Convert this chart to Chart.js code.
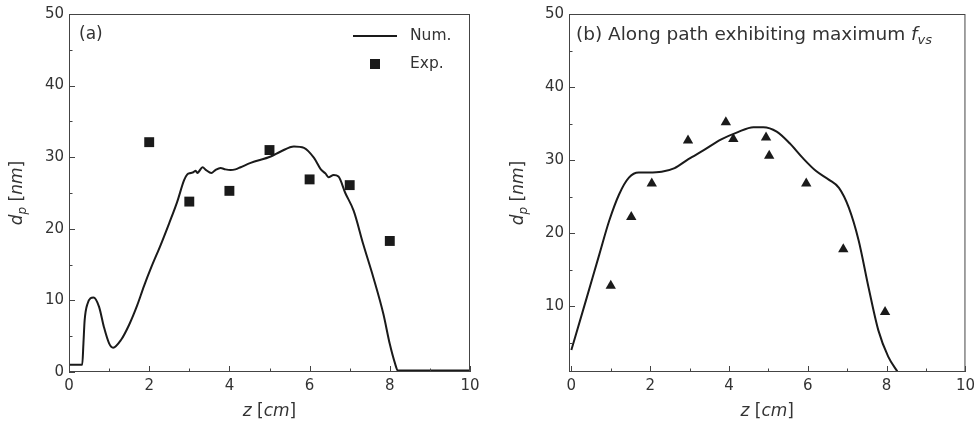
<!DOCTYPE html>
<html lang="en">

<head>
    <meta charset="UTF-8">
    <title>Particle diameter along z</title>
    <script src="https://cdn.jsdelivr.net/npm/chart.js"></script>
    <style>
        body { margin: 0; background: #fff; }
        .wrap { display: flex; width: 980px; height: 425px; }
    </style>
</head>

<body>
    <div class="wrap">
        <canvas id="chartA" width="490" height="425"></canvas>
        <canvas id="chartB" width="490" height="425"></canvas>
    </div>

    <script>
        // ---- panel (a) ----
        const numZA = [0, 0.33, 0.36, 0.39, 0.46, 0.61, 0.75, 0.87, 1.0, 1.1, 1.3, 1.5, 1.7, 1.87, 2.05, 2.29, 2.5, 2.7, 2.87, 2.95, 3.03, 3.1, 3.16, 3.2, 3.24, 3.33, 3.42, 3.55, 3.65, 3.78, 3.9, 4.03, 4.15, 4.28, 4.53, 5.03, 5.28, 5.61, 5.86, 6.11, 6.28, 6.4, 6.47, 6.6, 6.72, 6.89, 7.1, 7.34, 7.59, 7.84, 8.0, 8.13, 8.2, 8.3, 10]
        const numDpA = [1.0, 1.0, 4.0, 7.2, 9.5, 10.4, 9.1, 6.3, 4.0, 3.4, 4.5, 6.6, 9.3, 12.0, 14.6, 17.8, 20.8, 23.8, 26.8, 27.6, 27.8, 27.9, 28.1, 27.8, 28.0, 28.6, 28.2, 27.8, 28.2, 28.5, 28.3, 28.2, 28.3, 28.6, 29.2, 30.1, 30.8, 31.5, 31.3, 29.9, 28.3, 27.7, 27.2, 27.5, 27.3, 25.0, 22.5, 17.8, 13.2, 8.1, 3.9, 1.2, 0.2, 0.2, 0.2]
        const expZA = [2, 3, 4, 5, 6, 7, 8]
        const expDpA = [32.1, 23.8, 25.3, 31.0, 26.9, 26.1, 18.3]

        // ---- panel (b) ----
        const numZB = [0, 0.37, 0.71, 0.96, 1.21, 1.46, 1.71, 1.96, 2.29, 2.62, 2.96, 3.37, 3.79, 4.21, 4.62, 4.87, 5.21, 5.54, 5.87, 6.21, 6.54, 6.79, 7.04, 7.29, 7.54, 7.79, 8.04, 8.28, 8.4]
        const numDpB = [4.0, 10.8, 17.1, 21.7, 25.3, 27.6, 28.3, 28.3, 28.4, 28.9, 30.1, 31.4, 32.8, 33.8, 34.5, 34.5, 33.9, 32.3, 30.3, 28.5, 27.3, 26.2, 23.5, 19.0, 12.6, 6.7, 3.1, 1.0, 0]
        const expZB = [1.0, 1.52, 2.04, 2.96, 3.92, 4.11, 4.94, 5.02, 5.96, 6.9, 7.96]
        const expDpB = [12.8, 22.2, 26.8, 32.7, 35.2, 32.9, 33.1, 30.6, 26.8, 17.8, 9.2]

        // ticks
        const xMajor = [0, 2, 4, 6, 8, 10]
        const xMinor = [1, 3, 5, 7, 9]
        const yMajorA = [0, 10, 20, 30, 40, 50]
        const yMajorB = [10, 20, 30, 40, 50]
        const yMinor = [5, 15, 25, 35, 45]

        const FONT = 'DejaVu Sans'
        const TXT = '#333'
        const INK = '#1a1a1a'

        const toPts = (xs, ys) => xs.map((x, i) => ({ x: x, y: ys[i] }))

        // rich text: segments of {t, it, sub}
        function drawRich(ctx, segs, x, y, size, align) {
            const parts = segs.map(s => {
                const fs = s.sub ? size * 0.7 : size
                ctx.font = (s.it ? 'italic ' : '') + fs + 'px "' + FONT + '"'
                return { s: s, fs: fs, w: ctx.measureText(s.t).width }
            })
            const total = parts.reduce((a, p) => a + p.w, 0)
            let cx = align === 'center' ? x - total / 2 : x
            ctx.textBaseline = 'middle'
            ctx.textAlign = 'left'
            ctx.fillStyle = TXT
            parts.forEach(p => {
                ctx.font = (p.s.it ? 'italic ' : '') + p.fs + 'px "' + FONT + '"'
                ctx.fillText(p.s.t, cx, y + (p.s.sub ? size * 0.3 : 0))
                cx += p.w
            })
        }

        const yTitle = [{ t: 'd', it: true }, { t: 'p', it: true, sub: true }, { t: ' [' }, { t: 'nm', it: true }, { t: ']' }]
        const xTitle = [{ t: 'z', it: true }, { t: ' [' }, { t: 'cm', it: true }, { t: ']' }]

        const framePlugin = {
            id: 'frame',
            afterDraw(chart, args, opts) {
                const ctx = chart.ctx
                const a = chart.chartArea
                const xs = chart.scales.x, ys = chart.scales.y
                ctx.save()
                ctx.strokeStyle = '#444'
                ctx.lineWidth = 1
                ctx.strokeRect(a.left + 0.5, a.top + 0.5, a.right - a.left - 1, a.bottom - a.top - 1)
                ctx.beginPath()
                xMajor.forEach(v => { const p = Math.round(xs.getPixelForValue(v)) + 0.5; ctx.moveTo(p, a.bottom); ctx.lineTo(p, a.bottom - 6) })
                xMinor.forEach(v => { const p = Math.round(xs.getPixelForValue(v)) + 0.5; ctx.moveTo(p, a.bottom); ctx.lineTo(p, a.bottom - 3.5) })
                opts.yMajor.forEach(v => { const p = Math.round(ys.getPixelForValue(v)) + 0.5; ctx.moveTo(a.left, p); ctx.lineTo(a.left + 6, p) })
                yMinor.forEach(v => { const p = Math.round(ys.getPixelForValue(v)) + 0.5; ctx.moveTo(a.left, p); ctx.lineTo(a.left + 3.5, p) })
                ctx.stroke()

                // axis titles
                drawRich(ctx, xTitle, (a.left + a.right) / 2, 412, 17, 'center')
                ctx.translate(a.left - opts.yTitleGap, (a.top + a.bottom) / 2)
                ctx.rotate(-Math.PI / 2)
                drawRich(ctx, yTitle, 0, 0, 17, 'center')
                ctx.setTransform(1, 0, 0, 1, 0, 0)

                // panel note
                drawRich(ctx, opts.note, a.left + opts.noteX, a.top + 21, opts.noteSize, 'left')

                // legend
                if (opts.legend) {
                    const ds = chart.data.datasets
                    const lx = a.right - 117, ly1 = a.top + 22, ly2 = a.top + 50
                    ctx.strokeStyle = INK
                    ctx.lineWidth = 2
                    ctx.beginPath()
                    ctx.moveTo(lx, ly1); ctx.lineTo(lx + 44, ly1)
                    ctx.stroke()
                    ctx.fillStyle = INK
                    ctx.fillRect(lx + 22 - 5, ly2 - 5, 10, 10)
                    drawRich(ctx, [{ t: ds[0].label }], a.right - 60, ly1, 15.5, 'left')
                    drawRich(ctx, [{ t: ds[1].label }], a.right - 60, ly2, 15.5, 'left')
                }
                ctx.restore()
            }
        }

        function makeScales(xMin, yMin, yTicks, yWidth) {
            const tickFont = { family: FONT, size: 15 }
            return {
                x: {
                    type: 'linear', min: xMin, max: 10,
                    afterBuildTicks: s => { s.ticks = xMajor.map(v => ({ value: v })) },
                    afterFit: s => { s.height = 53 },
                    grid: { display: false, drawTicks: false },
                    border: { display: false },
                    ticks: { padding: 5, font: tickFont, color: TXT }
                },
                y: {
                    type: 'linear', min: yMin, max: 50,
                    afterBuildTicks: s => { s.ticks = yTicks.map(v => ({ value: v })) },
                    afterFit: s => { s.width = yWidth },
                    grid: { display: false, drawTicks: false },
                    border: { display: false },
                    ticks: { padding: 5, font: tickFont, color: TXT }
                }
            }
        }

        function makeConfig(numPts, expPts, marker, markerR, scales, padRight, frameOpts) {
            return {
                type: 'scatter',
                data: {
                    datasets: [{
                        label: 'Num.',
                        data: numPts,
                        showLine: true,
                        borderColor: INK,
                        borderWidth: 2,
                        pointRadius: 0,
                        cubicInterpolationMode: 'monotone'
                    }, {
                        label: 'Exp.',
                        data: expPts,
                        pointStyle: marker,
                        pointRadius: markerR,
                        backgroundColor: INK,
                        borderColor: INK,
                        borderWidth: 0
                    }]
                },
                options: {
                    responsive: false,
                    animation: false,
                    layout: { padding: { top: 12, right: padRight, left: 0, bottom: 0 } },
                    scales: scales,
                    plugins: {
                        legend: { display: false },
                        tooltip: { enabled: false },
                        frame: frameOpts
                    }
                },
                plugins: [framePlugin]
            }
        }

        new Chart(document.getElementById('chartA'), makeConfig(
            toPts(numZA, numDpA), toPts(expZA, expDpA), 'rect', 7,
            makeScales(0, 0, yMajorA, 69), 20,
            { yMajor: yMajorA, yTitleGap: 51, noteX: 10, noteSize: 17, note: [{ t: '(a)' }], legend: true }
        ))

        new Chart(document.getElementById('chartB'), makeConfig(
            toPts(numZB, numDpB), toPts(expZB, expDpB), 'triangle', 6,
            makeScales(-0.06, 1, yMajorB, 79), 9,
            {
                yMajor: yMajorB, yTitleGap: 50, noteX: 7, noteSize: 18.5, legend: false,
                note: [{ t: '(b) Along path exhibiting maximum ' }, { t: 'f', it: true }, { t: 'vs', it: true, sub: true }]
            }
        ))
    </script>
</body>

</html>
